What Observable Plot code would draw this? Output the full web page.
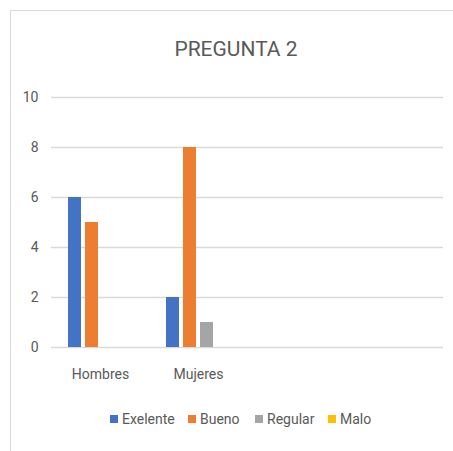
<!DOCTYPE html>
<html>
<head>
<meta charset="utf-8">
<script src="https://cdn.jsdelivr.net/npm/d3@7"></script>
<script src="https://cdn.jsdelivr.net/npm/@observablehq/plot@0.6"></script>
<style>
  html, body { margin: 0; padding: 0; background: #fff; }
  body { width: 453px; height: 451px; position: relative; overflow: hidden; font-family: Roboto, sans-serif; }
  #frame { position: absolute; left: 10px; top: 10px; width: 500px; height: 500px; border: 1px solid #d9d9d9; box-sizing: border-box; }
  #chart { position: absolute; left: 0; top: 0; }
  #title { position: absolute; left: 0; width: 472px; top: 37px; text-align: center; font-size: 21px; color: #595959; }
  #legend { position: absolute; top: 411px; left: 0; width: 453px; font-size: 14px; color: #595959; }
  .item { position: absolute; top: 0; white-space: nowrap; }
  .sw { display: inline-block; width: 8px; height: 8px; margin-right: 4px; vertical-align: 1px; }
</style>
</head>
<body>
<div id="frame"></div>
<div id="chart"></div>
<div id="title">PREGUNTA 2</div>
<div id="legend"></div>
<script>
const categories = ["Hombres", "Mujeres", " ", "  "];
const series = ["Exelente", "Bueno", "Regular", "Malo"];
const colors = ["#4472C4", "#ED7D31", "#A5A5A5", "#FFC000"];
const hombres = [6, 5, 0, 0];
const mujeres = [2, 8, 1, 0];
const yTicks = [0, 2, 4, 6, 8, 10];

const data = [];
series.forEach((s, i) => {
  data.push({category: "Hombres", series: s, value: hombres[i]});
  data.push({category: "Mujeres", series: s, value: mujeres[i]});
});
const grid = [];
categories.forEach(c => yTicks.forEach(t => grid.push({category: c, y: t})));

const chart = Plot.plot({
  width: 453,
  height: 451,
  marginTop: 97,
  marginBottom: 104,
  marginLeft: 50,
  marginRight: 10,
  style: {fontFamily: "Roboto, sans-serif", fontSize: "14px", color: "#595959", background: "transparent"},
  fx: {domain: categories, padding: 0, axis: "bottom", label: null, tickSize: 0, tickPadding: 22},
  x: {domain: series, axis: null, paddingInner: 0.22, paddingOuter: 0.85},
  y: {domain: [0, 10], ticks: yTicks, label: null, tickSize: 0, tickPadding: 13},
  color: {domain: series, range: colors},
  marks: [
    Plot.ruleY(grid, {fx: "category", y: "y", stroke: "#d9d9d9", strokeWidth: 1.5}),
    Plot.barY(data, {fx: "category", x: "series", y: "value", fill: "series"})
  ]
});
document.getElementById("chart").appendChild(chart);

const legend = document.getElementById("legend");
const lefts = [110, 188, 255, 328];
series.forEach((s, i) => {
  const it = document.createElement("div");
  it.className = "item";
  it.style.left = lefts[i] + "px";
  it.innerHTML = `<span class="sw" style="background:${colors[i]}"></span>${s}`;
  legend.appendChild(it);
});
</script>
</body>
</html>
